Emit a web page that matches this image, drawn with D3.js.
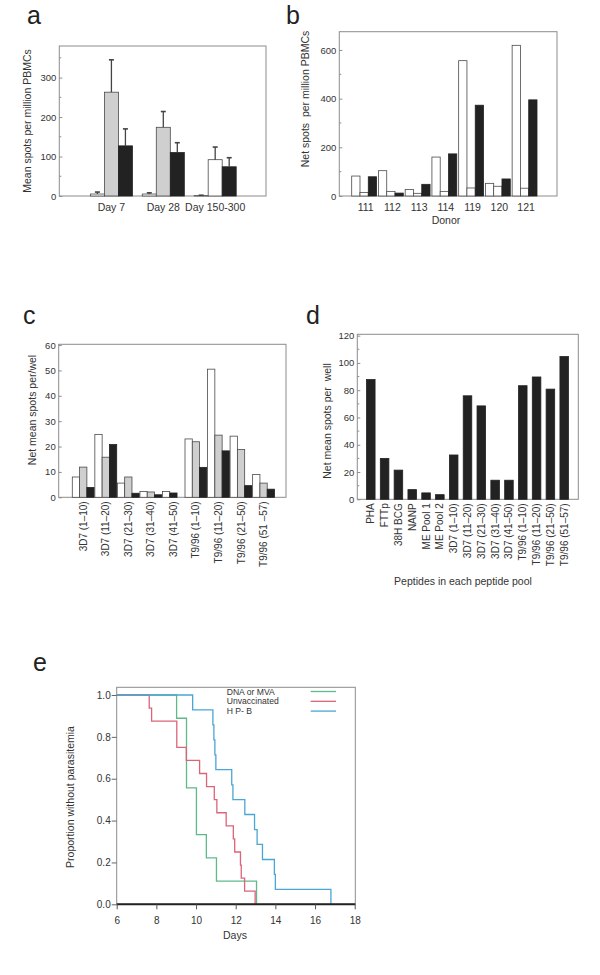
<!DOCTYPE html>
<html><head><meta charset="utf-8">
<script src="https://cdn.jsdelivr.net/npm/d3@7"></script>
<style>
body{margin:0;background:#fff}
svg{display:block}
text{font-family:"Liberation Sans",Arial,Helvetica,sans-serif;fill:#333}
</style>
</head><body>
<svg id="fig" width="600" height="975"></svg>
<script>
// ---------- Panel a ----------
const aGroups = ["Day 7", "Day 28", "Day 150-300"];
const aSeries1 = [5, 5, 1];
const aSeries2 = [263, 174, 92];
const aSeries3 = [127, 110, 74];
const aErrTop1 = [10, 8, 2];
const aErrTop2 = [345, 214, 124];
const aErrTop3 = [170, 135, 97];
const aTicks = [0, 100, 200, 300];

// ---------- Panel b ----------
const bDonors = ["111", "112", "113", "114", "119", "120", "121"];
const bSeries1 = [82, 104, 27, 160, 556, 52, 619];
const bSeries2 = [14, 19, 11, 19, 33, 40, 32];
const bSeries3 = [79, 12, 48, 173, 373, 70, 395];
const bTicks = [0, 200, 400, 600];

// ---------- Panel c ----------
const cPools = ["3D7 (1\u201310)", "3D7 (11\u201320)", "3D7 (21\u201330)", "3D7 (31\u201340)", "3D7 (41\u201350)",
  "T9/96 (1\u201310)", "T9/96 (11\u201320)", "T9/96 (21\u201350)", "T9/96 (51 \u201357)"];
const cSeries1 = [8, 24.8, 5.6, 2.3, 2.3, 23, 50.5, 24.1, 9];
const cSeries2 = [11.9, 15.8, 8, 2.1, null, 21.9, 24.5, 18.8, 5.6];
const cSeries3 = [3.9, 20.8, 1.6, 1, 1.7, 11.8, 18.3, 4.6, 3.2];
const cTicks = [0, 10, 20, 30, 40, 50, 60];

// ---------- Panel d ----------
const dPools = ["PHA", "FTTp", "38H BCG", "NANP", "ME Pool 1", "ME Pool 2",
  "3D7 (1\u201310)", "3D7 (11\u201320)", "3D7 (21\u201330)", "3D7 (31\u201340)", "3D7 (41\u201350)",
  "T9/96 (1\u201310)", "T9/96 (11\u201320)", "T9/96 (21\u201350)", "T9/96 (51\u201357)"];
const dValues = [87.8, 30, 21.4, 7.1, 4.7, 3.4, 32.5, 75.9, 68.5, 14, 14, 83.3, 89.7, 80.8, 104.7];
const dTicks = [0, 20, 40, 60, 80, 100, 120];

// ---------- Panel e (Kaplan-Meier) ----------
const eGroups = ["DNA or MVA", "Unvaccinated", "H P- B"];
const greenDays = [9.02, 9.52, 10.02, 10.52, 11.03, 13.05];
const greenSurv = [0.889, 0.556, 0.333, 0.222, 0.111, 0];
const redDays = [7.64, 7.76, 9.03, 9.51, 10.18, 10.53, 10.92, 11.05, 11.52, 11.88, 11.95, 12.24, 12.28, 12.45, 12.98];
const redSurv = [0.9375, 0.875, 0.75, 0.6875, 0.625, 0.5625, 0.5, 0.4375, 0.375, 0.3125, 0.25, 0.1875, 0.125, 0.0625, 0];
const blueDays = [9.83, 10.85, 10.9, 10.95, 11.0, 11.8, 11.86, 12.46, 12.95, 13.08, 13.35, 13.95, 14.0, 16.8];
const blueSurv = [0.929, 0.857, 0.786, 0.714, 0.643, 0.571, 0.5, 0.429, 0.357, 0.286, 0.214, 0.143, 0.071, 0];
const eXTicks = [6, 8, 10, 12, 14, 16, 18];
const eYTicks = [0, 0.2, 0.4, 0.6, 0.8, 1.0];

// ================= drawing =================
const svg = d3.select("#fig");
const FRAME = "#8c8c8c";
const BLACK = "#222";
const GRAY = "#cfcfcf";
const OUTLINE = "#4a4a4a";

function letter(t, x, y) {
  svg.append("text").attr("x", x).attr("y", y).attr("font-size", 25).style("fill", "#222").text(t);
}
function yTitle(t, x, y, size) {
  svg.append("text").attr("transform", `translate(${x},${y}) rotate(-90)`)
    .attr("text-anchor", "middle").attr("dy", "0.35em").attr("font-size", size || 10.5)
    .style("white-space", "pre").text(t);
}

function barPanel(o) {
  const g = svg.append("g");
  const y = d3.scaleLinear().domain([0, o.yMax]).range([o.fy[1], o.fy[0]]);
  const x = d3.scaleBand().domain(o.groups).range(o.band).paddingInner(o.padInner).paddingOuter(0);
  g.append("rect").attr("x", o.fx[0]).attr("y", o.fy[0]).attr("width", o.fx[1] - o.fx[0])
    .attr("height", o.fy[1] - o.fy[0]).attr("fill", "none").attr("stroke", FRAME).attr("stroke-width", 1);
  const nS = o.series.length;
  const sw = x.bandwidth() / nS;
  o.groups.forEach((grp, gi) => {
    let slot = 0;
    o.series.forEach((s, si) => {
      const v = s[gi];
      if (v === null || v === undefined) return;
      const bx = x(grp) + slot * sw;
      slot++;
      const fill = o.fillFn(si, gi);
      g.append("rect").attr("x", bx).attr("y", y(v)).attr("width", sw).attr("height", y(0) - y(v))
        .attr("fill", fill).attr("stroke", fill === BLACK ? BLACK : OUTLINE).attr("stroke-width", 0.8);
      if (o.errTop) {
        const e = o.errTop[si][gi];
        const cx = bx + sw / 2;
        g.append("line").attr("x1", cx).attr("x2", cx).attr("y1", y(v)).attr("y2", y(e))
          .attr("stroke", "#444").attr("stroke-width", 1.3);
        g.append("line").attr("x1", cx - 2.5).attr("x2", cx + 2.5).attr("y1", y(e)).attr("y2", y(e))
          .attr("stroke", "#444").attr("stroke-width", 1.6);
      }
    });
  });
  const ax = g.append("g").attr("transform", `translate(${o.fx[0]},0)`)
    .call(d3.axisLeft(y).tickValues(o.ticks).tickSize(-3).tickPadding(3));
  ax.select(".domain").remove();
  ax.selectAll("line").attr("stroke", FRAME);
  ax.selectAll("text").attr("font-size", 9.5).attr("font-family", null).style("fill", "#333");
  if (o.minor) {
    g.selectAll(null).data(o.minor).enter().append("line")
      .attr("x1", o.fx[0]).attr("x2", o.fx[0] + 2).attr("y1", d => y(d)).attr("y2", d => y(d))
      .attr("stroke", FRAME);
  }
  if (o.rotate) {
    o.groups.forEach(grp => {
      g.append("text").attr("transform", `translate(${x(grp) + x.bandwidth() / 2},${o.fy[1] + 4}) rotate(-90)`)
        .attr("text-anchor", "end").attr("dy", "0.35em").attr("font-size", 10)
        .style("white-space", "pre").text(grp);
    });
  } else {
    o.groups.forEach(grp => {
      g.append("text").attr("x", x(grp) + x.bandwidth() / 2 + (o.labelShift || 0)).attr("y", o.fy[1] + 15)
        .attr("text-anchor", "middle").attr("font-size", 10.5).text(grp);
    });
  }
  return {x, y, g};
}

// Panel a
letter("a", 27, 24);
barPanel({
  fx: [59.3, 266], fy: [46, 196], yMax: 380,
  groups: aGroups, series: [aSeries1, aSeries2, aSeries3],
  errTop: [aErrTop1, aErrTop2, aErrTop3],
  band: [90.4, 236.2], padInner: 0.19,
  fillFn: (si, gi) => si === 2 ? BLACK : (si === 1 && gi < 2 ? GRAY : "#fff"),
  ticks: aTicks, minor: [50, 150, 250, 350]
});
yTitle("Mean spots per million PBMCs", 27, 121);

// Panel b
letter("b", 286, 24);
barPanel({
  fx: [339.3, 557], fy: [31.7, 196], yMax: 675,
  groups: bDonors, series: [bSeries1, bSeries2, bSeries3],
  band: [351.7, 537], padInner: 0.07,
  fillFn: (si) => si === 2 ? BLACK : "#fff",
  ticks: bTicks, minor: [100, 300, 500], labelShift: 1.5
});
yTitle("Net spots  per million PBMCs", 305, 99);
svg.append("text").attr("x", 446).attr("y", 224).attr("text-anchor", "middle").attr("font-size", 10.5).text("Donor");

// Panel c
letter("c", 23, 324);
barPanel({
  fx: [58.7, 286], fy: [344.3, 497.3], yMax: 60.3,
  groups: cPools, series: [cSeries1, cSeries2, cSeries3],
  band: [72.3, 274.5], padInner: 0.03,
  fillFn: (si) => si === 2 ? BLACK : (si === 1 ? GRAY : "#fff"),
  ticks: cTicks, rotate: true
});
yTitle("Net mean spots per/wel", 32, 410);

// Panel d
letter("d", 306, 324);
barPanel({
  fx: [357.3, 578.3], fy: [334.3, 499.3], yMax: 121,
  groups: dPools, series: [dValues],
  band: [366.5, 568.5], padInner: 0.38,
  fillFn: () => BLACK,
  ticks: dTicks, minor: [10, 30, 50, 70, 90, 110], rotate: true
});
yTitle("Net mean spots per  well", 327, 421);
svg.append("text").attr("x", 463).attr("y", 585).attr("text-anchor", "middle").attr("font-size", 10.5)
  .text("Peptides in each peptide pool");

// Panel e
letter("e", 33, 671);
(function () {
  const fx = [116.7, 355.3], fy = [687.3, 904.3];
  const x = d3.scaleLinear().domain([6, 18]).range([116.7, 354.7]);
  const y = d3.scaleLinear().domain([0, 1]).range([904.3, 695]);
  const g = svg.append("g");
  g.append("rect").attr("x", fx[0]).attr("y", fy[0]).attr("width", fx[1] - fx[0]).attr("height", fy[1] - fy[0])
    .attr("fill", "none").attr("stroke", FRAME);
  const colors = ["#5fb98a", "#dc6478", "#4aa6d2"];
  const curves = [[greenDays, greenSurv], [redDays, redSurv], [blueDays, blueSurv]];
  const line = d3.line().x(d => x(d[0])).y(d => y(d[1])).curve(d3.curveStepAfter);
  curves.forEach((c, i) => {
    const pts = [[6, 1]].concat(c[0].map((d, k) => [d, c[1][k]]));
    g.append("path").attr("d", line(pts)).attr("fill", "none").attr("stroke", colors[i]).attr("stroke-width", 1.3);
  });
  g.append("line").attr("x1", fx[0]).attr("x2", fx[1]).attr("y1", y(0)).attr("y2", y(0))
    .attr("stroke", "#222").attr("stroke-width", 2);
  const xa = g.append("g").attr("transform", `translate(0,${y(0)})`)
    .call(d3.axisBottom(x).tickValues(eXTicks).tickSize(5).tickPadding(8));
  xa.select(".domain").remove();
  xa.selectAll("line").attr("stroke", "#555");
  xa.selectAll("text").attr("font-size", 10).attr("font-family", null).style("fill", "#333");
  const ya = g.append("g").attr("transform", `translate(${fx[0]},0)`)
    .call(d3.axisLeft(y).tickValues(eYTicks).tickFormat(d3.format(".1f")).tickSize(5).tickPadding(1));
  ya.select(".domain").remove();
  ya.selectAll("line").attr("stroke", "#666");
  ya.selectAll("text").attr("font-size", 10).attr("font-family", null).style("fill", "#333");
  // legend (tight spacing as in the reference)
  eGroups.forEach((name, i) => {
    const ly = 691.5 + i * 9.8;
    g.append("text").attr("x", 226.7).attr("y", ly + 3.1).attr("font-size", 8.6).text(name);
    g.append("line").attr("x1", 310.7).attr("x2", 336).attr("y1", ly).attr("y2", ly)
      .attr("stroke", colors[i]).attr("stroke-width", 1.3);
  });
  svg.append("text").attr("x", 235).attr("y", 939).attr("text-anchor", "middle").attr("font-size", 10.5).text("Days");
  yTitle("Proportion without parasitemia", 70, 797);
})();
</script>
</body></html>
